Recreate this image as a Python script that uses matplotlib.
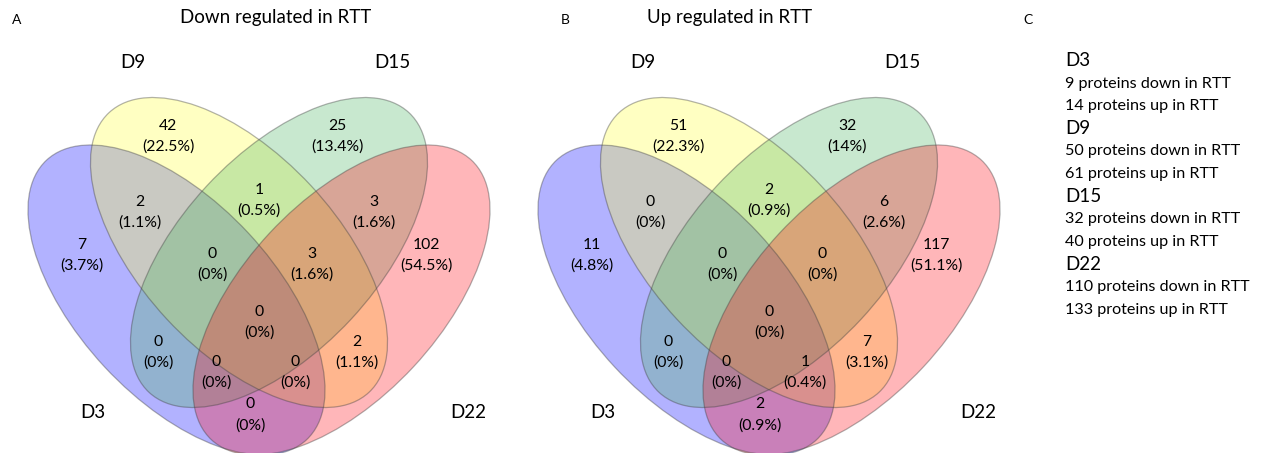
import matplotlib
matplotlib.use("Agg")
import matplotlib.pyplot as plt
from matplotlib.patches import Ellipse

plt.rcParams['font.family'] = ['Lato', 'DejaVu Sans']

# ---------------- data ----------------
set_names = ["D3", "D9", "D15", "D22"]
region_names = ["D9", "D15", "D3", "D22", "D9&D15", "D3&D9", "D15&D22",
                "D3&D9&D15", "D9&D15&D22", "D3&D9&D15&D22", "D3&D15",
                "D9&D22", "D3&D15&D22", "D3&D9&D22", "D3&D22"]
down_counts = [42, 25, 7, 102, 1, 2, 3, 0, 3, 0, 0, 2, 0, 0, 0]
up_counts = [51, 32, 11, 117, 2, 0, 6, 0, 0, 0, 0, 7, 0, 1, 2]
panel_titles = ["Down regulated in RTT", "Up regulated in RTT"]
panel_letters = ["A", "B", "C"]
summary_days = ["D3", "D9", "D15", "D22"]
summary_down = [9, 50, 32, 110]
summary_up = [14, 61, 40, 133]

# ---------------- layout / style ----------------
W, H = 1268, 453
fig = plt.figure(figsize=(W / 100, H / 100), dpi=100)
ax = fig.add_axes([0, 0, 1, 1])
ax.set_xlim(0, W)
ax.set_ylim(H, 0)
ax.axis('off')

fill_colors = {"D3": (0.0, 0.0, 1.0), "D9": (1.0, 1.0, 0.22),
               "D15": (0.29, 0.71, 0.38), "D22": (1.0, 0.05, 0.09)}
alpha = 0.3
# ellipse geometry relative to panel centre: (dx, y, width, height, angle)
EW, EH, EA = 381.8, 196.4, 47.1
ell_geom = {"D3": (-82.5, 300.0, EW, EH, EA),
            "D9": (-20.0, 252.5, EW, EH, EA),
            "D15": (20.0, 252.5, EW, EH, -EA),
            "D22": (82.5, 300.0, EW, EH, -EA)}
set_label_pos = {"D9": (-126, 62), "D15": (133, 62), "D3": (-166, 413), "D22": (209, 413)}
region_pos = [(-91, 136.5), (78, 136.5), (-177, 255.5), (167, 255.5), (0, 200),
              (-119, 212), (115, 212), (-47, 264), (53, 264), (0, 322.5),
              (-101, 352.5), (98, 352.5), (-43, 372), (36, 372), (-9, 415)]
panel_centres = [259, 769]


def fmt_pct(c, total):
    p = round(100.0 * c / total, 1)
    s = ("%.1f" % p)
    if s.endswith(".0"):
        s = s[:-2]
    return "(" + s + "%)"


for k, counts in enumerate([down_counts, up_counts]):
    cx = panel_centres[k]
    for name in set_names:
        dx, y, w, h, ang = ell_geom[name]
        e = Ellipse((cx + dx, y), w, h, angle=ang, facecolor=fill_colors[name],
                    alpha=alpha, edgecolor='none')
        ax.add_patch(e)
    for name in set_names:
        dx, y, w, h, ang = ell_geom[name]
        e = Ellipse((cx + dx, y), w, h, angle=ang, facecolor='none',
                    edgecolor=(0.25, 0.25, 0.25, 0.4), lw=0.9)
        ax.add_patch(e)
    total = sum(counts)
    for c, (dx, y) in zip(counts, region_pos):
        ax.text(cx + dx, y - 10.5, str(c), ha='center', va='center', fontsize=11.3, color='black')
        ax.text(cx + dx, y + 10.5, fmt_pct(c, total), ha='center', va='center', fontsize=11.3, color='black')
    for name in set_names:
        dx, y = set_label_pos[name]
        ax.text(cx + dx, y, name, ha='center', va='center', fontsize=13.5)

# titles and letters
ax.text(276, 17, panel_titles[0], ha='center', va='center', fontsize=13.5)
ax.text(730, 17, panel_titles[1], ha='center', va='center', fontsize=13.5)
ax.text(17, 20, panel_letters[0], ha='center', va='center', fontsize=10)
ax.text(565, 20, panel_letters[1], ha='center', va='center', fontsize=10)
ax.text(1028, 20, panel_letters[2], ha='center', va='center', fontsize=10)

# summary panel C
y = 61
step = 22.6
for day, dn, up in zip(summary_days, summary_down, summary_up):
    ax.text(1065, y, day, ha='left', va='center', fontsize=13.5)
    y += step
    ax.text(1065, y, "%d proteins down in RTT" % dn, ha='left', va='center', fontsize=11.6)
    y += step
    ax.text(1065, y, "%d proteins up in RTT" % up, ha='left', va='center', fontsize=11.6)
    y += step

fig.savefig("out.png", dpi=100)
